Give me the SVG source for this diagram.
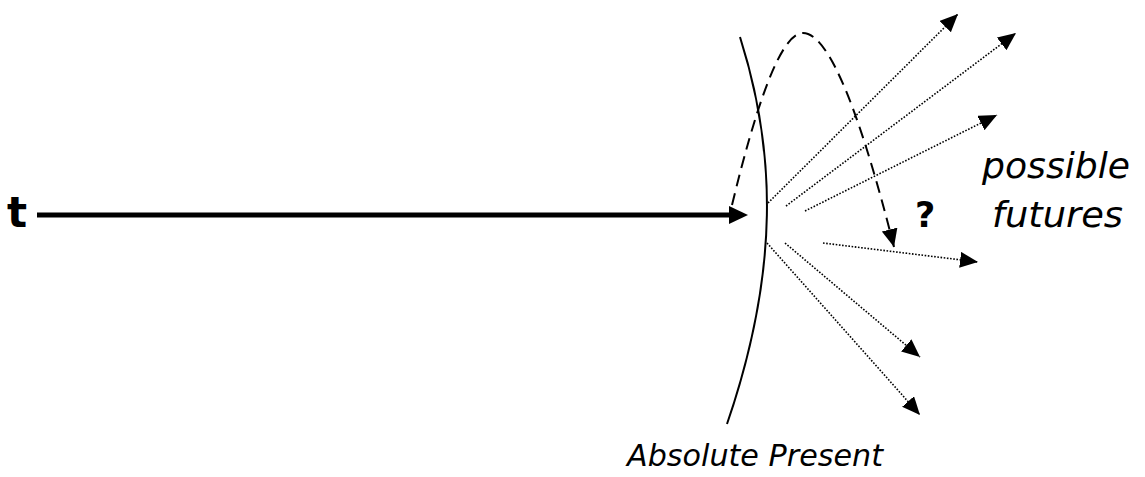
<svg xmlns="http://www.w3.org/2000/svg" width="1145" height="477" viewBox="0 0 1145 477">
<style>
.lbl{font-family:"DejaVu Sans","Liberation Sans",sans-serif;fill:#000}
.it{font-style:italic}
.bd{font-weight:bold}
.dot{fill:none;stroke:#000;stroke-width:1.6;stroke-dasharray:1.6 1.6}
.dash{fill:none;stroke:#000;stroke-width:2;stroke-dasharray:12 7}
.solid{fill:none;stroke:#000;stroke-width:2}
</style>
<defs>
<marker id="ah" markerUnits="userSpaceOnUse" markerWidth="20" markerHeight="18" refX="18" refY="8" orient="auto" viewBox="0 0 20 18">
<path d="M0,0 L18,8 L0,16 Z" fill="#000"/>
</marker>
</defs>
<rect width="1145" height="477" fill="#fff"/>
<g id="time-axis">
<line x1="37" y1="215" x2="731" y2="215" stroke="#000" stroke-width="5"/>
<polygon points="729,206 748,215 729,224" fill="#000"/>
<text class="lbl bd" x="7" y="227" font-size="42">t</text>
</g>
<g id="absolute-present">
<path class="solid" d="M740,37 C776,150 780,270 727,424"/>
<text class="lbl it" x="627" y="466" font-size="30" textLength="256" lengthAdjust="spacingAndGlyphs">Absolute Present</text>
</g>
<g id="question">
<text class="lbl bd" x="915" y="227" font-size="35">?</text>
</g>
<g id="possible-futures">
<text class="lbl it" x="982" y="178" font-size="36" textLength="148" lengthAdjust="spacingAndGlyphs">possible</text>
<text class="lbl it" x="992" y="227" font-size="36" textLength="131" lengthAdjust="spacingAndGlyphs">futures</text>
</g>
<g id="connectors">
<path class="dash" d="M732,205 C755,110 780,33 803,33 C830,33 862,120 894,247" marker-end="url(#ah)"/>
<line class="dot" x1="768" y1="203" x2="958" y2="14" marker-end="url(#ah)"/>
<line class="dot" x1="786" y1="206" x2="1016" y2="33" marker-end="url(#ah)"/>
<line class="dot" x1="805" y1="211" x2="997" y2="115" marker-end="url(#ah)"/>
<line class="dot" x1="823" y1="243" x2="978" y2="262" marker-end="url(#ah)"/>
<line class="dot" x1="785" y1="243" x2="920" y2="357" marker-end="url(#ah)"/>
<line class="dot" x1="767" y1="243" x2="920" y2="415" marker-end="url(#ah)"/>
</g>
</svg>
